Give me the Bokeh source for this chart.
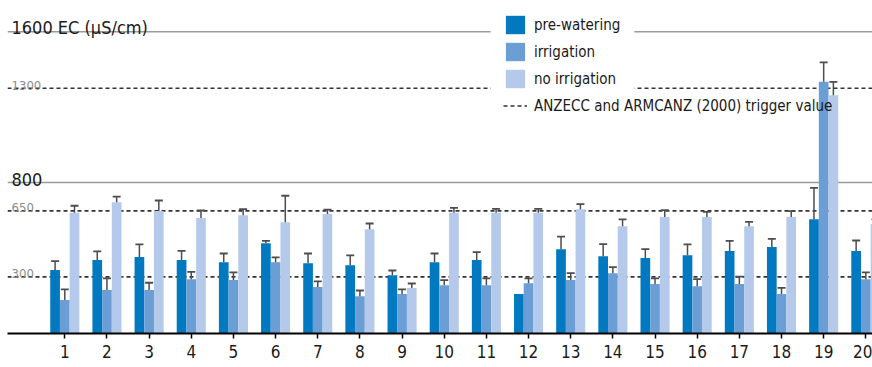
from bokeh.plotting import figure
from bokeh.models import (ColumnDataSource, Range1d, FixedTicker, Legend, LegendItem,
                          Label, BoxAnnotation, Whisker, TeeHead)
from bokeh.embed import file_html
from bokeh.resources import INLINE

# Sites along the x axis
sites = list(range(1, 21))

# Mean EC (µS/cm) per site and treatment, with the upper error (one side)
pre_watering = [336, 389, 405, 389, 378, 479, 373, 362, 309, 378,
                389, 209, 447, 410, 400, 415, 437, 458, 606, 437]
pre_watering_err = [48, 46, 67, 49, 46, 12, 51, 52, 25, 46,
                    42, 0, 66, 64, 47, 57, 54, 44, 166, 56]
irrigation = [177, 230, 230, 288, 283, 378, 246, 198, 209, 256,
              256, 267, 283, 320, 262, 251, 262, 209, 1334, 288]
irrigation_err = [57, 62, 39, 39, 41, 25, 30, 30, 25, 27,
                  36, 25, 37, 32, 30, 37, 39, 33, 103, 36]
no_irrigation = [640, 696, 649, 612, 627, 590, 633, 553, 241, 640,
                 640, 640, 659, 569, 617, 617, 569, 617, 1263, 580]
no_irrigation_err = [37, 30, 56, 40, 32, 140, 24, 30, 24, 26,
                     21, 21, 27, 36, 37, 28, 23, 32, 71, 25]

# Reference levels
trigger_values = [300, 650, 1300]   # ANZECC and ARMCANZ (2000)
scale_levels = [800, 1600]

series_names = ["pre-watering", "irrigation", "no irrigation"]
series_colors = ["#0079c1", "#6a9ed5", "#b5caea"]

FONT = "DejaVu Sans Condensed, Roboto, sans-serif"
BAR_W = 0.23
X0, X1 = -0.359, 20.158
Y0, Y1 = 0, 1765

p = figure(width=872, height=367, x_range=Range1d(X0, X1), y_range=Range1d(Y0, Y1),
           toolbar_location=None, output_backend="svg", y_axis_location=None,
           min_border_left=7, min_border_right=0, min_border_top=0, min_border_bottom=34)
p.outline_line_color = None
p.xgrid.visible = False
p.ygrid.visible = False
p.background_fill_color = "white"

# Horizontal scale lines and trigger lines
n_s = len(scale_levels)
p.segment(x0=[X0] * n_s, x1=[X1] * n_s, y0=scale_levels, y1=scale_levels,
          line_color="#9a9a9a", line_width=1.5, level="underlay")
n_t = len(trigger_values)
r_trig = p.segment(x0=[X0] * n_t, x1=[X1] * n_t, y0=trigger_values, y1=trigger_values,
                   line_color="#333333", line_width=1.6, line_dash="4 3", level="underlay")

# White panel behind the legend keys interrupts the upper lines
p.add_layout(BoxAnnotation(left=11.10, right=14.51, bottom=1261, top=1722,
                           fill_color="white", fill_alpha=1.0, line_alpha=0,
                           level="underlay"))

offsets = [-BAR_W, 0.0, BAR_W]
values = [pre_watering, irrigation, no_irrigation]
errors = [pre_watering_err, irrigation_err, no_irrigation_err]
bar_renderers = []
for name, color, off, vals, errs in zip(series_names, series_colors, offsets, values, errors):
    xs = [s + off for s in sites]
    src = ColumnDataSource(dict(x=xs, top=vals))
    r = p.vbar(x="x", top="top", width=BAR_W, source=src, fill_color=color,
               line_color=None)
    bar_renderers.append(r)
    keep = [i for i, e in enumerate(errs) if e > 0]
    wsrc = ColumnDataSource(dict(x=[xs[i] for i in keep],
                                 lower=[vals[i] for i in keep],
                                 upper=[vals[i] + errs[i] for i in keep]))
    p.add_layout(Whisker(source=wsrc, base="x", lower="lower", upper="upper",
                         dimension="height", line_color="#4d4d4d", line_width=1.5,
                         upper_head=TeeHead(size=8, line_color="#4d4d4d", line_width=1.8),
                         lower_head=None, level="glyph"))

# X axis
ax = p.xaxis[0]
ax.ticker = FixedTicker(ticks=sites)
ax.axis_line_color = "black"
ax.axis_line_width = 2
ax.major_tick_in = 0
ax.major_tick_out = 5
ax.major_tick_line_color = "black"
ax.major_tick_line_width = 1.5
ax.minor_tick_line_color = None
ax.major_label_text_font = FONT
ax.major_label_text_font_size = "17px"
ax.major_label_text_color = "#1a1a1a"
ax.major_label_standoff = 6

# Level labels
def level_label(text, y, size, color, dy):
    p.add_layout(Label(x=X0, y=y, x_offset=4, y_offset=dy, text=text,
                       text_font=FONT, text_font_size=size, text_color=color,
                       text_baseline="alphabetic"))

level_label("1600  EC (µS/cm)", 1600, "18px", "#1a1a1a", 4)
level_label("800", 800, "18px", "#1a1a1a", 3)
for tv in trigger_values:
    level_label(str(tv), tv, "13px", "#8c8c8c", 3)

legend = Legend(items=[LegendItem(label=n, renderers=[r]) for n, r in zip(series_names, bar_renderers)]
                + [LegendItem(label="ANZECC and ARMCANZ (2000) trigger value", renderers=[r_trig])],
                location=(496, 216), orientation="vertical")
legend.glyph_width = 24
legend.glyph_height = 23
legend.label_height = 18
legend.spacing = 4
legend.label_standoff = 7
legend.padding = 0
legend.margin = 0
legend.border_line_alpha = 0
legend.background_fill_alpha = 0
legend.label_text_font = FONT
legend.label_text_font_size = "15px"
legend.label_text_color = "#1a1a1a"
legend.label_text_baseline = "middle"
p.add_layout(legend)

open("out.html", "w").write(file_html(p, INLINE))
